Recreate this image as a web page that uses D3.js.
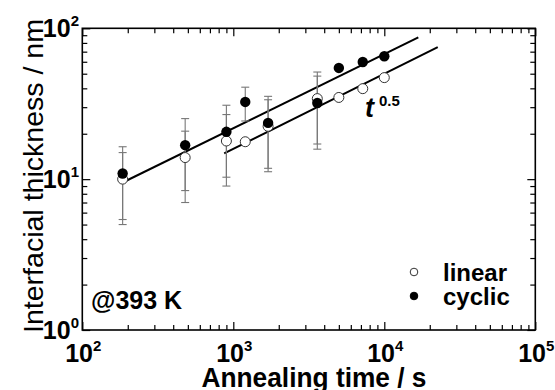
<!DOCTYPE html>
<html><head><meta charset="utf-8">
<script src="https://cdn.jsdelivr.net/npm/d3@7"></script>
<style>
html,body{margin:0;padding:0;background:#fff;}
text{font-family:"Liberation Sans",Arial,Helvetica,sans-serif;font-weight:bold;fill:#000;}
</style></head>
<body><svg id="chart" width="555" height="390"></svg>
<script>
// ---- data ----
const times     = [185, 480, 900, 1200, 1700, 3600, 5000, 7200, 10000];
const linearVal = [10, 13.9, 17.9, 17.7, 22.4, 34.2, 34.8, 39.8, 47.1];
const cyclicVal = [10.9, 16.8, 20.6, 32.5, 23.6, 32.0, 54.6, 59.8, 65.3];
const linearErr = [5.0, 6.9, 8.9, null, 11.2, 17.1, null, null, null];
const cyclicErr = [5.5, 8.4, 10.3, 8.2, 11.8, 16.2, null, null, null];
const fitCyclic = [[185, 9.5], [16800, 87]];
const fitLinear = [[870, 14.8], [22600, 75]];
const xMajor = [1e2, 1e3, 1e4, 1e5];
const yMajor = [1, 10, 100];
const xExp = ["2", "3", "4", "5"];
const yExp = ["0", "1", "2"];
const seriesNames = ["linear", "cyclic"];

const svg = d3.select("#chart");
const L = 82.3, R = 535.3, T = 28.3, B = 330;
const x = d3.scaleLog().domain([1e2, 1e5]).range([L, R]);
const y = d3.scaleLog().domain([1, 100]).range([B, T]);

function minors(domain) {
  const out = [];
  for (let d = domain[0]; d < domain[1]; d *= 10)
    for (let k = 2; k <= 9; k++) out.push(d * k);
  return out;
}
const xMinor = minors([1e2, 1e5]);
const yMinor = minors([1, 100]);

// axes: ticks inward on all four sides
function addAxis(gen, transform) {
  const g = svg.append("g").attr("transform", transform).call(gen);
  g.selectAll("text").remove();
  g.select(".domain").remove();
  g.selectAll("line").attr("stroke", "#000").attr("stroke-width", 1.2);
}
addAxis(d3.axisBottom(x).tickValues(xMajor).tickSize(-8), `translate(0,${B})`);
addAxis(d3.axisBottom(x).tickValues(xMinor).tickSize(-5), `translate(0,${B})`);
addAxis(d3.axisTop(x).tickValues(xMajor).tickSize(-8), `translate(0,${T})`);
addAxis(d3.axisTop(x).tickValues(xMinor).tickSize(-5), `translate(0,${T})`);
addAxis(d3.axisLeft(y).tickValues(yMajor).tickSize(-8), `translate(${L},0)`);
addAxis(d3.axisLeft(y).tickValues(yMinor).tickSize(-5), `translate(${L},0)`);
addAxis(d3.axisRight(y).tickValues(yMajor).tickSize(-8), `translate(${R},0)`);
addAxis(d3.axisRight(y).tickValues(yMinor).tickSize(-5), `translate(${R},0)`);

svg.append("rect").attr("x", L).attr("y", T).attr("width", R - L).attr("height", B - T)
  .attr("fill", "none").attr("stroke", "#000").attr("stroke-width", 1.6);

// tick labels
xMajor.forEach((v, i) => {
  const t = svg.append("text").attr("x", x(v) + 1).attr("y", 362).attr("text-anchor", "middle")
    .style("font-size", "25px");
  t.append("tspan").text("10");
  t.append("tspan").attr("dy", -11).style("font-size", "15px").text(xExp[i]);
});
yMajor.forEach((v, i) => {
  const t = svg.append("text").attr("x", 79).attr("y", y(v) + 9).attr("text-anchor", "end")
    .style("font-size", "25px");
  t.append("tspan").text("10");
  t.append("tspan").attr("dy", -11).style("font-size", "15px").text(yExp[i]);
});

// axis titles
svg.append("text").attr("x", 314).attr("y", 387).attr("text-anchor", "middle")
  .style("font-size", "27px").attr("textLength", 225).attr("lengthAdjust", "spacingAndGlyphs")
  .text("Annealing time / s");
svg.append("text").attr("transform", "translate(43,176) rotate(-90)").attr("text-anchor", "middle")
  .style("font-size", "28px").style("font-weight", "normal").attr("textLength", 314).attr("lengthAdjust", "spacingAndGlyphs")
  .text("Interfacial thickness / nm");

// fit lines
const line = d3.line().x(d => x(d[0])).y(d => y(d[1]));
[fitCyclic, fitLinear].forEach(f => {
  svg.append("path").attr("d", line(f)).attr("fill", "none").attr("stroke", "#000").attr("stroke-width", 2);
});

// error bars
function errorBars(vals, errs) {
  times.forEach((t, i) => {
    if (errs[i] == null) return;
    const cx = x(t), y0 = y(vals[i] - errs[i]), y1 = y(vals[i] + errs[i]);
    const g = svg.append("g").attr("stroke", "#777").attr("stroke-width", 1.1);
    g.append("line").attr("x1", cx).attr("x2", cx).attr("y1", y0).attr("y2", y1);
    g.append("line").attr("x1", cx - 4).attr("x2", cx + 4).attr("y1", y0).attr("y2", y0);
    g.append("line").attr("x1", cx - 4).attr("x2", cx + 4).attr("y1", y1).attr("y2", y1);
  });
}
errorBars(linearVal, linearErr);
errorBars(cyclicVal, cyclicErr);

// markers
svg.append("g").selectAll("circle").data(times).join("circle")
  .attr("cx", d => x(d)).attr("cy", (d, i) => y(linearVal[i])).attr("r", 5)
  .attr("fill", "#fff").attr("stroke", "#333").attr("stroke-width", 1);
svg.append("g").selectAll("circle").data(times).join("circle")
  .attr("cx", d => x(d)).attr("cy", (d, i) => y(cyclicVal[i])).attr("r", 5.2)
  .attr("fill", "#000");

// t^0.5 annotation
const ta = svg.append("text").attr("x", 365).attr("y", 117);
ta.append("tspan").style("font-size", "27px").style("font-style", "italic").text("t");
ta.append("tspan").attr("dx", 5).attr("dy", -11).style("font-size", "15px").text("0.5");

// temperature label
svg.append("text").attr("x", 91).attr("y", 309).style("font-size", "25px").text("@393 K");

// legend
const leg = svg.append("g");
seriesNames.forEach((n, i) => {
  const ly = 272 + i * 24;
  leg.append("circle").attr("cx", 414).attr("cy", ly).attr("r", 3.8)
    .attr("fill", i === 0 ? "#fff" : "#000").attr("stroke", i === 0 ? "#333" : "#000").attr("stroke-width", 1);
  leg.append("text").attr("x", 443).attr("y", ly + 9).style("font-size", "24px").text(n);
});
</script></body></html>
